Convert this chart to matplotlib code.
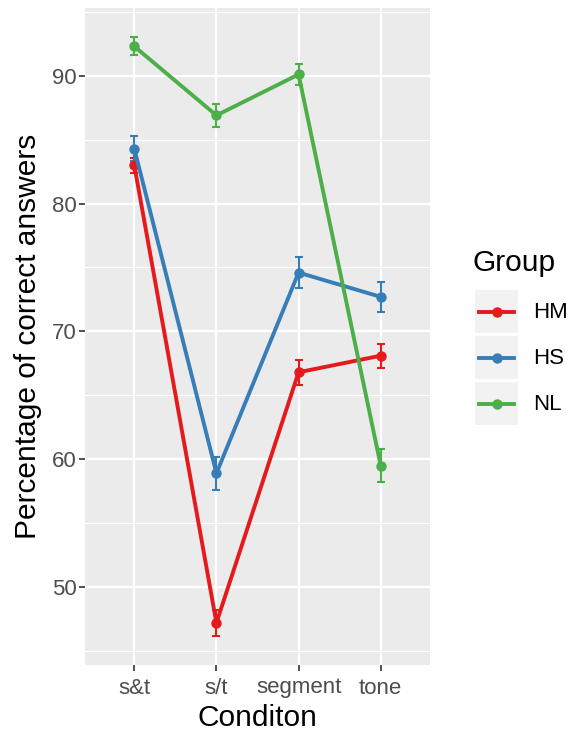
import numpy as np
import matplotlib.pyplot as plt

plt.rcParams['font.family'] = ['Liberation Sans', 'DejaVu Sans']

conditions = ['s&t', 's/t', 'segment', 'tone']
groups = ['HM', 'HS', 'NL']
colors = ['#E41A1C', '#377EB8', '#4DAF4A']

hmMean = [83.0, 47.2, 66.8, 68.1]
hmErr = [0.6, 1.0, 1.0, 0.95]
hsMean = [84.3, 58.9, 74.6, 72.7]
hsErr = [0.95, 1.3, 1.2, 1.2]
nlMean = [92.3, 86.9, 90.1, 59.5]
nlErr = [0.7, 0.9, 0.8, 1.3]

means = [hmMean, hsMean, nlMean]
errs = [hmErr, hsErr, nlErr]

W, H = 573, 736
fig = plt.figure(figsize=(W/100, H/100), dpi=100)
fig.patch.set_facecolor('white')

# panel position in pixels
left, right, top, bottom = 85, 430, 8, 665
ax = fig.add_axes([left/W, 1 - bottom/H, (right-left)/W, (bottom-top)/H])
ax.set_facecolor('#EBEBEB')
for s in ax.spines.values():
    s.set_visible(False)

x = np.arange(1, len(conditions) + 1)
for m, e, c in zip(means, errs, colors):
    ax.errorbar(x, m, yerr=e, fmt='none', ecolor=c, capsize=2.9,
                capthick=1.5, elinewidth=1.5, zorder=3)
    ax.plot(x, m, color=c, lw=2.8, marker='o', markersize=7.5,
            markeredgewidth=0, zorder=4)

ax.set_xlim(0.4, 4.6)
ax.set_ylim(43.9, 95.3)
ax.set_xticks(x)
ax.set_xticklabels(conditions)
ax.set_yticks([50, 60, 70, 80, 90])
ax.set_yticks([45, 55, 65, 75, 85, 95], minor=True)
ax.grid(which='major', color='white', lw=1.6, zorder=0)
ax.grid(which='minor', axis='y', color='white', lw=0.8, zorder=0)
ax.set_axisbelow(True)
ax.tick_params(axis='both', which='major', labelsize=16, colors='#333333',
               labelcolor='#4D4D4D', length=4, width=1.2)
ax.tick_params(axis='x', which='major', pad=5)
ax.tick_params(axis='y', which='major', pad=2)
ax.tick_params(axis='y', which='minor', length=0)
ax.set_xlabel('Conditon', fontsize=21.5, labelpad=4)
ax.set_ylabel('Percentage of correct answers', fontsize=21.5, labelpad=7)

# legend
fig.text(472/W, 1 - 263/H, 'Group', fontsize=21.5, va='center', ha='left')
keyTops = [290, 336, 382]
for g, c, kt in zip(groups, colors, keyTops):
    kax = fig.add_axes([475/W, 1 - (kt + 43)/H, 43/W, 43/H])
    kax.set_facecolor('#F2F2F2')
    kax.set_xlim(0, 1)
    kax.set_ylim(0, 1)
    kax.set_xticks([])
    kax.set_yticks([])
    for s in kax.spines.values():
        s.set_visible(False)
    kax.plot([0.1, 0.9], [0.5, 0.5], color=c, lw=2.8)
    kax.plot([0.5], [0.5], 'o', color=c, markersize=7.5, markeredgewidth=0)
    fig.text(533/W, 1 - (kt + 22)/H, g, fontsize=16, va='center', ha='left')

fig.savefig('out.png', dpi=100)
